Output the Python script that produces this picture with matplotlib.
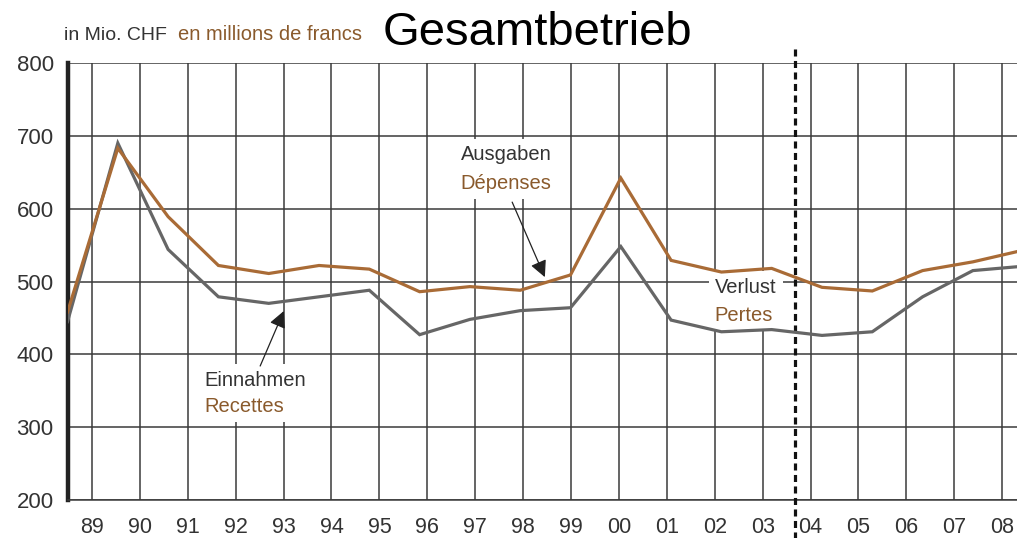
import matplotlib
matplotlib.use('Agg')
from matplotlib import pyplot as plt
import numpy as np

# values, in Mio. CHF
years = np.arange(1989, 2009)
einnahmen = [445, 690, 544, 479, 470, 479, 488, 427, 448, 460,
             464, 548, 447, 431, 434, 426, 431, 479, 515, 521]
ausgaben = [458, 683, 589, 522, 511, 522, 517, 486, 493, 488,
            509, 642, 529, 513, 518, 492, 487, 515, 527, 543]
grid_years = np.arange(1989, 2009)
grid_labels = ['%02d' % (y % 100) for y in grid_years]
y_ticks = [200, 300, 400, 500, 600, 700, 800]
forecast_start = 2003.68  # dotted separator, in grid units

plt.rcParams['font.family'] = ['Liberation Sans', 'DejaVu Sans']

dark = '#333333'
brown_txt = '#8a5a2c'
brown_line = '#a96b36'
grey_line = '#666666'

fig = plt.figure(figsize=(10.17, 5.38), dpi=100)
ax = fig.add_axes([0.0664, 0.0706, 0.9336, 0.8123])

# grid / label axis (the year grid is slightly off the data spacing)
ax.set_xlim(1988.49, 2008.31)
ax.set_ylim(200, 800)
ax.set_xticks(grid_years)
ax.set_xticklabels(grid_labels)
ax.set_yticks(y_ticks)
ax.tick_params(axis='both', length=0, labelsize=16, colors=dark)
ax.tick_params(axis='x', pad=12, labelsize=15.5)
ax.tick_params(axis='y', pad=10)
ax.grid(True, color='#3a3a3a', lw=1.1, zorder=1)
ax.set_axisbelow(True)
for side in ['top', 'right']:
    ax.spines[side].set_visible(False)
ax.spines['bottom'].set_color('#3a3a3a')
ax.spines['bottom'].set_linewidth(1.1)
ax.spines['left'].set_color('#222222')
ax.spines['left'].set_linewidth(3.2)

ax.axvline(forecast_start, ymin=-0.09, ymax=1.042, clip_on=False,
           color='#111111', lw=2.3, ls=(0, (2.2, 1.4)), zorder=6)

# data axis
axd = ax.twiny()
axd.set_xlim(1989, 1989 + (1017 - 67.5) / 50.3)
axd.set_ylim(200, 800)
axd.set_xticks([])
axd.axis('off')
axd.plot(years, einnahmen, color=grey_line, lw=2.3, zorder=5,
         solid_joinstyle='miter')
axd.plot(years, ausgaben, color=brown_line, lw=2.3, zorder=5,
         solid_joinstyle='miter')

box = dict(facecolor='white', edgecolor='none', pad=4.5)
arrow = dict(arrowstyle='-|>,head_length=1.0,head_width=0.5',
             color='#222222', lw=0.9, shrinkA=0, shrinkB=0)

axd.text(1996.82, 673.7, 'Ausgaben', color=dark, fontsize=14.5,
         va='center', ha='left', bbox=box, zorder=3)
axd.text(1996.82, 635.2, 'Dépenses', color=brown_txt, fontsize=14.5,
         va='center', ha='left', bbox=box, zorder=3)
axd.annotate('', xy=(1998.49, 506), xytext=(1997.84, 609),
             arrowprops=arrow, zorder=4)

axd.text(1991.73, 364.7, 'Einnahmen', color=dark, fontsize=14.5,
         va='center', ha='left', bbox=box, zorder=3)
axd.text(1991.73, 329, 'Recettes', color=brown_txt, fontsize=14.5,
         va='center', ha='left', bbox=box, zorder=3)
axd.annotate('', xy=(1993.30, 459.5), xytext=(1992.83, 384),
             arrowprops=arrow, zorder=4)

axd.text(2001.87, 492.4, 'Verlust', color=dark, fontsize=14.5,
         va='center', ha='left', bbox=box, zorder=3)
axd.text(2001.87, 454, 'Pertes', color=brown_txt, fontsize=14.5,
         va='center', ha='left', bbox=box, zorder=3)

# header
fig.text(64 / 1017, 1 - 35 / 538, 'in Mio. CHF', color=dark, fontsize=14,
         va='center', ha='left')
fig.text(178 / 1017, 1 - 35 / 538, 'en millions de francs', color=brown_txt,
         fontsize=14.5, va='center', ha='left')
fig.text(383 / 1017, 1 - 33 / 538, 'Gesamtbetrieb', color='black',
         fontsize=34, va='center', ha='left')

fig.savefig('out.png', dpi=100)
